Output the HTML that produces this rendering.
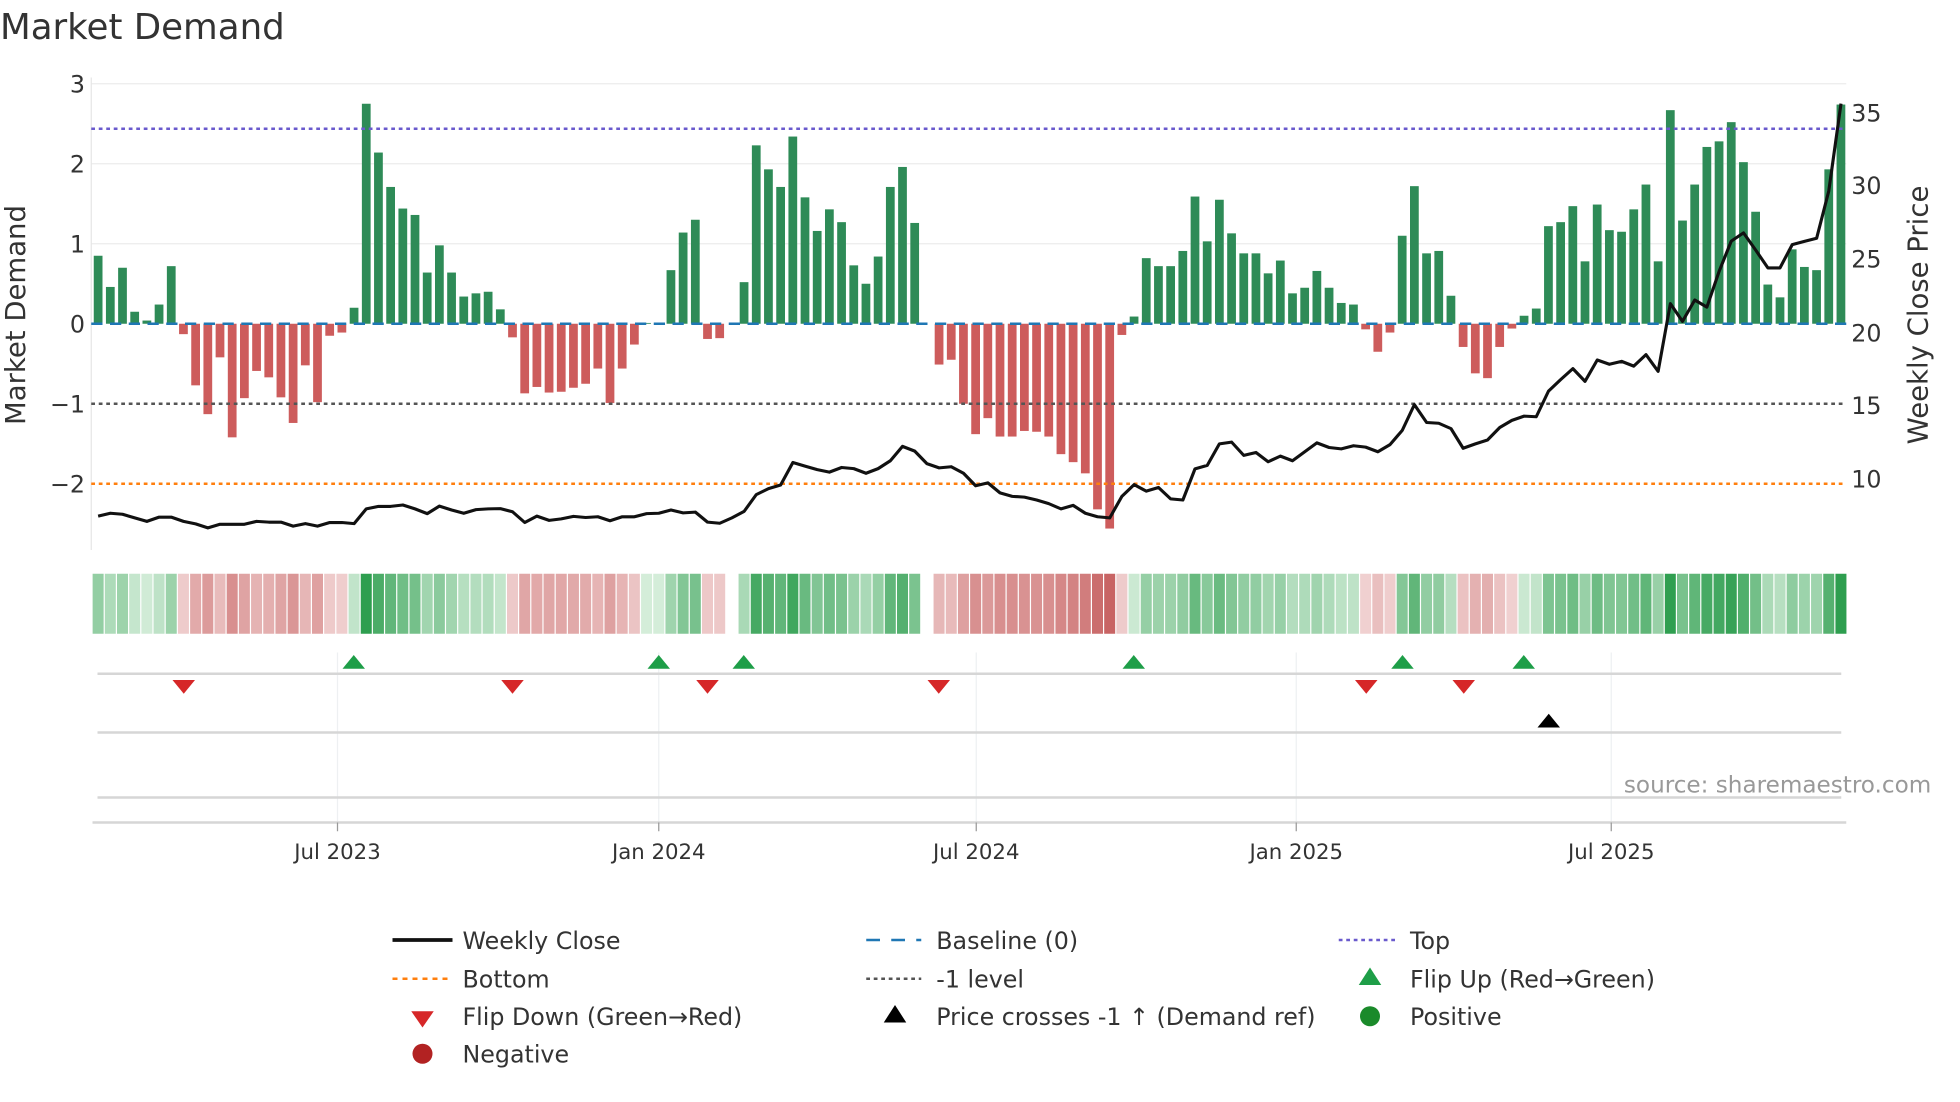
<!DOCTYPE html>
<html><head><meta charset="utf-8"><style>
html,body{margin:0;padding:0;background:#fff;}
svg{display:block;font-family:"DejaVu Sans","Liberation Sans",sans-serif;}
</style></head><body>
<svg id="s" width="1960" height="1102" viewBox="0 0 1568 881.6" xmlns="http://www.w3.org/2000/svg">
<rect width="1568" height="881.6" fill="#fff"/>
<text x="0" y="31" font-size="28.5" fill="#333">Market Demand</text>
<g stroke="#ebebeb" stroke-width="1">
<line x1="73" y1="67" x2="1477" y2="67"/><line x1="73" y1="131" x2="1477" y2="131"/><line x1="73" y1="195" x2="1477" y2="195"/>
</g>
<line x1="73" y1="62" x2="73" y2="440" stroke="#e6e6e6"/>
<g font-size="19" fill="#333" text-anchor="end">
<text x="68" y="74">3</text><text x="68" y="138">2</text><text x="68" y="202">1</text><text x="68" y="266">0</text><text x="68" y="330">−1</text><text x="68" y="394">−2</text>
</g>
<g font-size="19" fill="#333">
<text x="1481" y="97">35</text><text x="1481" y="155">30</text><text x="1481" y="214">25</text><text x="1481" y="273">20</text><text x="1481" y="331">15</text><text x="1481" y="390">10</text>
</g>
<text transform="translate(20,252) rotate(-90)" font-size="22" fill="#333" text-anchor="middle">Market Demand</text>
<text transform="translate(1542,252) rotate(-90)" font-size="22" fill="#333" text-anchor="middle">Weekly Close Price</text>
<g id="bars"></g>
<line x1="73" y1="259" x2="1477" y2="259" stroke="#1f77b4" stroke-width="2" stroke-dasharray="9,6"/>
<line x1="73" y1="103" x2="1477" y2="103" stroke="#6a5acd" stroke-width="2" stroke-dasharray="3,3"/>
<line x1="73" y1="323" x2="1477" y2="323" stroke="#555" stroke-width="2" stroke-dasharray="3,3"/>
<line x1="73" y1="387" x2="1477" y2="387" stroke="#ff7f0e" stroke-width="2" stroke-dasharray="3,3"/>
<polyline id="price" fill="none" stroke="#111" stroke-width="2.5" stroke-linejoin="round"/>
<g id="heat"></g>
<g stroke="#eef0f2" stroke-width="1">
<line x1="270" y1="522" x2="270" y2="658"/><line x1="527" y1="522" x2="527" y2="658"/><line x1="781" y1="522" x2="781" y2="658"/><line x1="1037" y1="522" x2="1037" y2="658"/><line x1="1289" y1="522" x2="1289" y2="658"/>
</g>
<g stroke="#d6d6d6" stroke-width="2">
<line x1="78" y1="539" x2="1473" y2="539"/><line x1="78" y1="586" x2="1473" y2="586"/><line x1="78" y1="638" x2="1473" y2="638"/><line x1="74" y1="658" x2="1477" y2="658"/>
</g>
<g stroke="#999" stroke-width="1">
<line x1="270" y1="658" x2="270" y2="665"/><line x1="527" y1="658" x2="527" y2="665"/><line x1="781" y1="658" x2="781" y2="665"/><line x1="1037" y1="658" x2="1037" y2="665"/><line x1="1289" y1="658" x2="1289" y2="665"/>
</g>
<g font-size="17" fill="#333" text-anchor="middle">
<text x="270" y="687">Jul 2023</text><text x="527" y="687">Jan 2024</text><text x="781" y="687">Jul 2024</text><text x="1037" y="687">Jan 2025</text><text x="1289" y="687">Jul 2025</text>
</g>
<g id="marks"></g>
<text x="1545" y="634" font-size="18.5" fill="#999" text-anchor="end">source: sharemaestro.com</text>
<g font-size="19" fill="#333">
<line x1="314" y1="752" x2="362" y2="752" stroke="#111" stroke-width="3"/><text x="370" y="759">Weekly Close</text>
<line x1="693" y1="752" x2="737" y2="752" stroke="#1f77b4" stroke-width="2" stroke-dasharray="11,9"/><text x="749" y="759">Baseline (0)</text>
<line x1="1071" y1="752" x2="1116" y2="752" stroke="#6a5acd" stroke-width="2" stroke-dasharray="3,3"/><text x="1128" y="759">Top</text>
<line x1="314" y1="783" x2="360" y2="783" stroke="#ff7f0e" stroke-width="2" stroke-dasharray="4,4"/><text x="370" y="790">Bottom</text>
<line x1="693" y1="783" x2="737" y2="783" stroke="#555" stroke-width="2" stroke-dasharray="3,3"/><text x="749" y="790">-1 level</text>
<polygon points="1087,788 1105,788 1096,774" fill="#1e9e48"/><text x="1128" y="790">Flip Up (Red→Green)</text>
<polygon points="329,809 347,809 338,822" fill="#d62728"/><text x="370" y="820">Flip Down (Green→Red)</text>
<polygon points="707,818 725,818 716,804" fill="#000"/><text x="749" y="820">Price crosses -1 ↑ (Demand ref)</text>
<circle cx="1096" cy="813" r="8" fill="#1a8a2a"/><text x="1128" y="820">Positive</text>
<circle cx="338" cy="843" r="8" fill="#b22222"/><text x="370" y="850">Negative</text>
</g>
</svg>
<script>
var v=[0.85,0.46,0.70,0.15,0.04,0.24,0.72,-0.13,-0.77,-1.13,-0.42,-1.42,-0.93,-0.59,-0.67,-0.92,-1.24,-0.52,-0.98,-0.15,-0.11,0.2,2.75,2.14,1.71,1.44,1.36,0.64,0.98,0.64,0.34,0.38,0.40,0.18,-0.17,-0.87,-0.79,-0.86,-0.85,-0.80,-0.75,-0.56,-0.99,-0.56,-0.26,0.01,0.01,0.67,1.14,1.30,-0.19,-0.18,0,0.52,2.23,1.93,1.71,2.34,1.58,1.16,1.43,1.27,0.73,0.50,0.84,1.71,1.96,1.26,0,-0.51,-0.45,-1.0,-1.38,
-1.18,-1.41,-1.41,-1.34,-1.35,-1.41,-1.63,-1.73,-1.87,-2.32,-2.56,-0.14,0.09,0.82,0.72,0.72,0.91,1.59,1.03,1.55,1.13,0.88,0.88,0.63,0.79,0.38,0.45,0.66,0.45,0.26,0.24,-0.07,-0.35,-0.11,1.10,1.72,0.88,0.91,0.35,-0.29,-0.62,-0.68,-0.29,-0.06,0.10,0.19,1.22,1.27,1.47,0.78,1.49,1.17,1.15,1.43,1.74,0.78,2.67,1.29,1.74,2.21,2.28,2.52,2.02,1.40,0.49,0.33,0.93,0.71,0.67,1.93,2.74];
var p1=[1445,1437,1440,1450,1460,1448,1448,1460,1467,1478,1468,1468,1468,1460,1462,1462,1473,1466,1473,1463,1463,1466,1425,1418,1418,1414,1425,1438,1417,1428,1437,1427,1425,1424,1433,1463,1445,1457,1453,1446,1449,1447,1458,1447,1447,1438,1437,1428,1436,1434,1462,1465,1450,1432,1385,1368,1358,1295,1305,1315,1322,1309,1312,1325,1312,1290,1250,1263,1298,1310,1307,1325,1360,
1352,1380,1390,1392,1400,1410,1425,1415,1437,1447,1450,1390,1357,1375,1365,1397,1400,1313,1303,1243,1238,1275,1267,1293,1277,1290,1265,1240,1253,1257,1248,1252,1265,1245,1205,1133,1183,1185,1200,1255,1243,1232,1197,1177,1165,1167,1095,1063,1032,1068,1008,1020,1012,1025,993,1040,850,900,840,860,760,675,652,700,750,750,685,676,667,535,290];
var NS="http://www.w3.org/2000/svg";
function el(t,a,par){var e=document.createElementNS(NS,t);for(var k in a)e.setAttribute(k,a[k]);document.getElementById(par).appendChild(e);return e;}
function lerp(a,b,t){return Math.round(a+(b-a)*t);}
function col(c1,c2,t){return "rgb("+lerp(c1[0],c2[0],t)+","+lerp(c1[1],c2[1],t)+","+lerp(c1[2],c2[2],t)+")";}
var pts=[];
for(var i=0;i<v.length;i++){
 var x=78.5+i*9.75, val=v[i];
 var h=Math.abs(val)*64;
 if(h>0.3) el("rect",{x:x-3.5,y:val>0?259-h:259,width:7,height:h,fill:val>0?"#2e8b57":"#cd5c5c"},"bars");
 var t=Math.min(Math.abs(val)/2.7,1), c;
 if(val===0) c="#ffffff";
 else if(val>0) c=col([214,238,219],[46,158,79],Math.pow(t,0.8));
 else c=col([242,214,214],[200,100,100],Math.pow(Math.abs(val)/2.56,0.8));
 el("rect",{x:x-4.4,y:459,width:8.8,height:48,fill:c},"heat");
 pts.push(x.toFixed(1)+","+(p1[i]/3.5).toFixed(1));
}
document.getElementById("price").setAttribute("points",pts.join(" "));
[283,527,595,907,1122,1219].forEach(function(x){el("polygon",{points:(x-9)+",535 "+(x+9)+",535 "+x+",524",fill:"#1e9e48"},"marks");});
[147,410,566,751,1093,1171].forEach(function(x){el("polygon",{points:(x-9)+",544 "+(x+9)+",544 "+x+",555",fill:"#d62728"},"marks");});
el("polygon",{points:"1230,582 1248,582 1239,571",fill:"#000"},"marks");
</script>
</body></html>
